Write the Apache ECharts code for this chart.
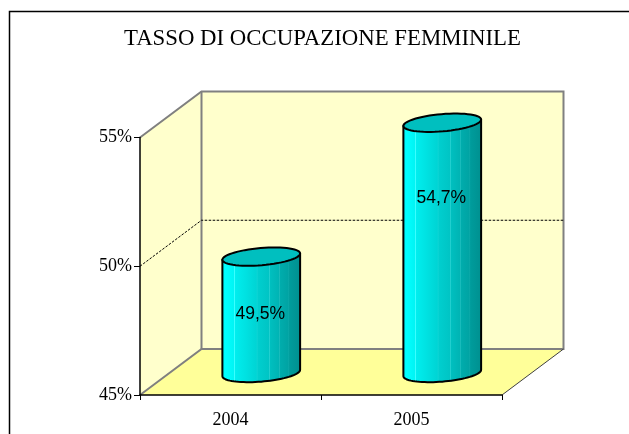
<!DOCTYPE html>
<html><head><meta charset="utf-8">
<style>html,body{margin:0;padding:0;background:#fff}#c{width:629px;height:434px}</style>
<script src="https://cdn.jsdelivr.net/npm/echarts@6/dist/echarts.min.js"></script>
</head><body><div id="c"></div>
<script>
const chartTitle = 'TASSO DI OCCUPAZIONE FEMMINILE';
const categories = ['2004', '2005'];
const values = [49.5, 54.7];
const axisMin = 45, axisMax = 55, axisStep = 5;
const gridValues = [50];

const DX = 61.5, DY = -46;          // 3-D depth of the box
const RX = 39, RY = 8.6, TILT = -0.085; // cylinder ellipse
const labelDrop = [58, 75];         // label distance below the cylinder top

const stops = (function () {
  const shades = [[0,'#00f0f0'],[.05,'#00ffff'],[.16,'#00f4f4'],[.165,'#40ffff'],[.175,'#00eeee'],[.30,'#00e2e2'],[.44,'#00d4d4'],[.445,'#30e0e0'],[.455,'#00cfcf'],[.60,'#00c4c4'],[.605,'#30d4d4'],[.615,'#00bfbf'],[.72,'#00b4b4'],[.725,'#28c4c4'],[.735,'#00adad'],[.84,'#00a3a3'],[.845,'#18b0b0'],[.855,'#009c9c'],[1,'#008f8f']];
  return shades.map(s => ({offset: s[0], color: s[1]}));
})();

function ellipsePt(c, t) {
  const x = RX * Math.cos(t), y = RY * Math.sin(t);
  return [c[0] + x * Math.cos(TILT) - y * Math.sin(TILT),
          c[1] + x * Math.sin(TILT) + y * Math.cos(TILT)];
}
function ellipsePts(c, a, b, n) {
  const out = [];
  for (let i = 0; i <= n; i++) out.push(ellipsePt(c, a + (b - a) * i / n));
  return out;
}

function renderBox(params, api) {
  const s = params.coordSys;
  const L = s.x, R = s.x + s.width, T = s.y, B = s.y + s.height;
  const grey = {stroke: '#808080', lineWidth: 2};
  const kids = [
    {type:'polygon', shape:{points:[[L,T],[L+DX,T+DY],[L+DX,B+DY],[L,B]]}, style:{fill:'#ffffcc', stroke:null}},
    {type:'polygon', shape:{points:[[L+DX,T+DY],[R+DX,T+DY],[R+DX,B+DY],[L+DX,B+DY]]}, style:{fill:'#ffffcc', stroke:null}},
    {type:'polygon', shape:{points:[[L,B],[L+DX,B+DY],[R+DX,B+DY],[R,B]]}, style:{fill:'#ffff99', stroke:null}},
    {type:'polyline', shape:{points:[[L,T],[L+DX,T+DY],[R+DX,T+DY],[R+DX,B+DY],[L+DX,B+DY],[L,B]]}, style:Object.assign({fill:null}, grey)},
    {type:'line', shape:{x1:L+DX,y1:T+DY,x2:L+DX,y2:B+DY}, style:grey},
    {type:'line', shape:{x1:R,y1:B,x2:R+DX,y2:B+DY}, style:{stroke:'#404040', lineWidth:1}}
  ];
  gridValues.forEach(v => {
    const y = api.coord([0, v])[1];
    kids.push({type:'polyline', shape:{points:[[L,y],[L+DX,y+DY],[R+DX,y+DY]]},
      style:{fill:null, stroke:'#000', lineWidth:1, lineDash:[2.5,1.5]}});
  });
  return {type:'group', children:kids};
}

function renderCyl(params, api) {
  const i = api.value(0), v = api.value(1);
  const top0 = api.coord([i, v]), base0 = api.coord([i, axisMin]);
  const top = [top0[0] + DX/2, top0[1] + DY/2 + 0.5], base = [base0[0] + DX/2, base0[1] + DY/2 + 1];
  const tanT = Math.atan2(-RY * Math.sin(TILT), RX * Math.cos(TILT));
  const side = ellipsePts(base, tanT, tanT + Math.PI, 40);
  const bodyPts = side.concat([ellipsePt(top, tanT + Math.PI), ellipsePt(top, tanT)]);
  const lab = (v.toFixed(1)).replace('.', ',') + '%';
  return {type:'group', children:[
    {type:'polygon', shape:{points:bodyPts},
     style:{fill:new echarts.graphic.LinearGradient(0,0,1,0,stops), stroke:'#000', lineWidth:2, lineJoin:'round'}},
    {type:'polygon', shape:{points:ellipsePts(top, 0, Math.PI*2, 60)},
     style:{fill:'#00bfbf', stroke:'#000', lineWidth:2}},
    {type:'text', style:{x:top[0]-1, y:top[1]+labelDrop[params.dataIndex], text:lab, fill:'#000',
      font:'17.5px "Liberation Sans"', align:'center', verticalAlign:'middle'}}
  ]};
}

const chart = echarts.init(document.getElementById('c'), null, {renderer:'canvas'});
chart.setOption({
  animation:false,
  backgroundColor:'#fff',
  title:{text:chartTitle, left:317.5, top:23, textAlign:'center',
    textStyle:{fontFamily:'Liberation Serif', fontSize:22.8, fontWeight:'normal', color:'#000'}},
  graphic:[
    {type:'polyline', z:100, shape:{points:[[9.5,434],[9.5,11.5],[629,11.5]]}, style:{fill:null, stroke:'#000', lineWidth:1.5}}
  ],
  grid:{left:140, right:127, top:137.5, height:257.5},
  xAxis:{type:'category', data:categories, boundaryGap:true, z:5,
    axisLine:{lineStyle:{color:'#000', width:1.5}, onZero:false},
    axisTick:{show:true, length:5, lineStyle:{color:'#000'}},
    axisLabel:{fontFamily:'Liberation Serif', fontSize:18, color:'#000', margin:16}},
  yAxis:{type:'value', min:axisMin, max:axisMax, interval:axisStep, z:5,
    axisLine:{show:true, lineStyle:{color:'#000', width:1.5}},
    axisTick:{show:true, length:6, lineStyle:{color:'#000'}},
    splitLine:{show:false},
    axisLabel:{fontFamily:'Liberation Serif', fontSize:18, color:'#000', margin:8, lineHeight:18, padding:[6,0,0,0], formatter:'{value}%'}},
  series:[
    {type:'custom', z:1, silent:true, renderItem:renderBox, data:[[0, axisMin]], encode:{x:0,y:1}, clip:false},
    {type:'custom', z:3, renderItem:renderCyl, data:values.map((v,i)=>[i,v]), encode:{x:0,y:1}, clip:false}
  ]
});
</script></body></html>
